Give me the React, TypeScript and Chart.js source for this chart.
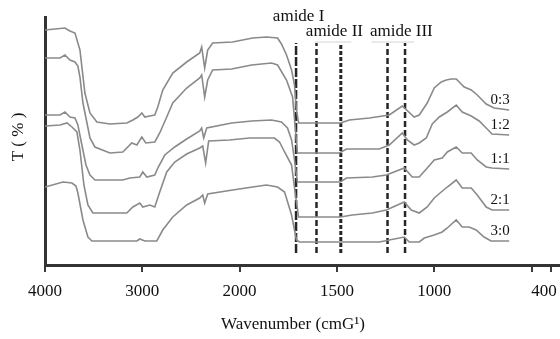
import { useEffect, useRef } from 'react';
import { Chart, registerables } from 'chart.js';

Chart.register(...registerables);

// Wavenumber (cm-1) -> axis position: 4000-2000 compressed, 2000-400 expanded x2
const pos = (w: number) => (w >= 2000 ? (4000 - w) / 2000 : 1 + (2000 - w) / 1000);

const tickWavenumbers = [4000, 3000, 2000, 1500, 1000, 500, 400];
const tickLabels = ['4000', '3000', '2000', '1500', '1000', '', ''];
const lastTickLabel = '400';

const seriesNames = ['0:3', '1:2', '1:1', '2:1', '3:0'];

const w03 = [4000, 3897, 3795, 3744, 3692, 3641, 3590, 3538, 3467, 3333, 3159, 3097, 3046, 3005, 2974, 2923, 2872, 2841, 2790, 2687, 2544, 2410, 2390, 2359, 2328, 2277, 2072, 1933, 1862, 1805, 1785, 1759, 1733, 1718, 1708, 1697, 1590, 1482, 1436, 1333, 1231, 1164, 1103, 1077, 1036, 1000, 964, 938, 913, 887, 846, 810, 779, 733, 692, 615];
const t03 = [235, 236, 237, 234, 232, 215, 172, 152, 143, 141, 142, 145, 148, 152, 148, 149, 150, 158, 175, 192, 203, 212, 218, 197, 215, 222, 223, 227, 228, 227, 221, 210, 195, 180, 155, 142, 142, 142, 145, 147, 150, 159, 148, 150, 162, 177, 183, 185, 186, 186, 178, 175, 170, 161, 157, 155];

const w12 = [4000, 3846, 3795, 3744, 3692, 3662, 3641, 3610, 3579, 3538, 3487, 3333, 3200, 3108, 3056, 3005, 2964, 2872, 2821, 2749, 2687, 2544, 2410, 2390, 2359, 2328, 2277, 2082, 1938, 1836, 1805, 1759, 1728, 1713, 1703, 1487, 1451, 1282, 1231, 1164, 1138, 1103, 1077, 1041, 1010, 974, 933, 887, 856, 810, 769, 728, 703, 615];
const t12 = [207, 207, 210, 205, 203, 199, 188, 162, 147, 127, 118, 112, 113, 122, 120, 128, 122, 123, 132, 148, 162, 177, 187, 190, 168, 185, 195, 196, 200, 202, 200, 185, 168, 135, 112, 112, 116, 116, 120, 132, 125, 120, 122, 127, 141, 148, 153, 160, 153, 149, 144, 136, 131, 130];

const w11 = [4000, 3846, 3795, 3744, 3692, 3662, 3621, 3579, 3538, 3487, 3200, 3128, 3026, 2995, 2954, 2872, 2841, 2769, 2667, 2544, 2410, 2390, 2369, 2338, 2082, 1938, 1836, 1785, 1754, 1733, 1718, 1703, 1482, 1451, 1318, 1246, 1154, 1113, 1077, 1036, 1000, 959, 933, 887, 856, 810, 779, 733, 703, 615];
const t11 = [150, 150, 153, 148, 147, 140, 120, 100, 90, 85, 85, 87, 88, 93, 88, 90, 97, 110, 118, 126, 134, 137, 127, 137, 142, 144, 145, 143, 137, 125, 105, 83, 83, 87, 88, 90, 97, 88, 88, 97, 105, 107, 113, 118, 112, 112, 105, 98, 97, 96];

const w21 = [4000, 3846, 3774, 3723, 3672, 3641, 3600, 3559, 3508, 3159, 3097, 3026, 2995, 2923, 2872, 2821, 2749, 2667, 2544, 2410, 2379, 2349, 2318, 2103, 1949, 1821, 1795, 1769, 1733, 1713, 1697, 1482, 1421, 1318, 1246, 1154, 1118, 1077, 1036, 1000, 964, 933, 887, 856, 810, 779, 733, 703, 615];
const t21 = [139, 140, 142, 138, 133, 115, 80, 60, 52, 52, 58, 62, 58, 60, 58, 73, 93, 103, 111, 117, 119, 102, 124, 125, 127, 127, 123, 113, 100, 70, 48, 48, 50, 52, 55, 63, 55, 52, 58, 67, 73, 78, 85, 77, 77, 70, 58, 55, 55];

const w30 = [4000, 3815, 3723, 3682, 3662, 3610, 3559, 3518, 3056, 3026, 2974, 2851, 2790, 2687, 2544, 2410, 2379, 2359, 2328, 2072, 1933, 1862, 1805, 1769, 1733, 1708, 1692, 1282, 1231, 1154, 1128, 1077, 1051, 1000, 959, 933, 887, 856, 821, 785, 744, 708, 615];
const t30 = [78, 83, 82, 79, 72, 45, 28, 24, 24, 26, 24, 24, 35, 48, 60, 67, 70, 62, 71, 75, 78, 80, 78, 73, 50, 25, 23, 23, 25, 28, 23, 23, 27, 30, 33, 37, 45, 38, 38, 35, 28, 24, 24];

const seriesW = [w03, w12, w11, w21, w30];
const seriesT = [t03, t12, t11, t21, t30];

// amide band markers (cm-1) and their vertical extent (T units)
const amideBands = [1710, 1605, 1480, 1240, 1150];
const bandTop = 222;
const bandBottom = 12;
const amideLabels = ['amide I', 'amide II', 'amide III'];
const amideLabelW = [1697, 1513, 1169];
const amideLabelT = [244, 229, 229];
const bracketW = [[1615, 1426], [1323, 1103]];
const bracketT = 223;

const xTitle = 'Wavenumber (cmG¹)';
const yTitle = 'T ( % )';

const FONT = '"Liberation Serif", "Times New Roman", serif';

export default function App() {
  const ref = useRef<HTMLCanvasElement | null>(null);

  useEffect(() => {
    if (!ref.current) return;
    const dashes = [[9, 2], [6, 3], [4, 2], [6, 3], [6, 3]];
    const curveSets = seriesNames.map((name, i) => ({
      label: name,
      data: seriesW[i].map((w, j) => ({ x: pos(w), y: seriesT[i][j] })),
      borderColor: '#8a8a8a',
      borderWidth: 1.6,
      pointRadius: 0,
      tension: 0,
      fill: false,
    }));
    const bandSets = amideBands.map((w, i) => ({
      label: 'band' + i,
      data: [{ x: pos(w), y: bandBottom }, { x: pos(w), y: bandTop }],
      borderColor: '#262626',
      borderWidth: i === 2 ? 3 : 2.5,
      borderDash: dashes[i],
      pointRadius: 0,
      fill: false,
    }));
    const bracketSets = bracketW.map((pair, i) => ({
      label: 'bracket' + i,
      data: pair.map((w) => ({ x: pos(w), y: bracketT })),
      borderColor: '#d4d4d4',
      borderWidth: 1,
      pointRadius: 0,
      fill: false,
    }));

    const textPlugin = {
      id: 'texts',
      afterDraw(chart: any) {
        const { ctx } = chart;
        const x = chart.scales.x;
        const y = chart.scales.y;
        ctx.save();
        ctx.fillStyle = '#111';
        ctx.textAlign = 'center';
        ctx.font = '17px ' + FONT;
        ctx.textBaseline = 'alphabetic';
        amideLabels.forEach((lab, i) => {
          ctx.fillText(lab, x.getPixelForValue(pos(amideLabelW[i])), y.getPixelForValue(amideLabelT[i]));
        });
        ctx.font = '15px ' + FONT;
        ctx.textBaseline = 'middle';
        seriesNames.forEach((name, i) => {
          const meta = chart.getDatasetMeta(i);
          const pt = meta.data[meta.data.length - 1];
          ctx.fillText(name, pt.x - 9, pt.y - 10);
        });
        ctx.font = '17px ' + FONT;
        ctx.fillText(lastTickLabel, x.getPixelForValue(pos(400)) - 7, x.top + 7 + 9 + 10.2);
        ctx.fillText(xTitle, (x.left + x.right) / 2 - 9, 325);
        ctx.translate(19, (y.top + y.bottom) / 2 - 4);
        ctx.rotate(-Math.PI / 2);
        ctx.fillText(yTitle, 0, 0);
        ctx.restore();
      },
    };

    const chart = new Chart(ref.current, {
      type: 'line',
      data: { datasets: [...curveSets, ...bandSets, ...bracketSets] as any },
      options: {
        animation: false,
        responsive: false,
        devicePixelRatio: 1,
        layout: { padding: { top: 17, left: 0, right: 0, bottom: 0 } },
        plugins: { legend: { display: false }, tooltip: { enabled: false } },
        scales: {
          x: {
            type: 'linear',
            min: 0,
            max: 515 / 195,
            afterBuildTicks: (scale: any) => {
              scale.ticks = tickWavenumbers.map((w) => ({ value: pos(w) }));
            },
            afterFit: (scale: any) => {
              scale.height = 74;
            },
            ticks: {
              autoSkip: false,
              maxRotation: 0,
              padding: 9,
              color: '#111',
              font: { family: FONT, size: 17 },
              callback: (_v: any, i: number) => tickLabels[i],
            },
            grid: { display: true, drawOnChartArea: false, drawTicks: true, tickLength: 7, lineWidth: 2, color: '#3a3a3a' },
            border: { display: true, color: '#333', width: 3 },
          },
          y: {
            type: 'linear',
            min: 0,
            max: 248,
            afterFit: (scale: any) => {
              scale.width = 45;
            },
            ticks: { display: false },
            grid: { display: false, drawTicks: false },
            border: { display: true, color: '#333', width: 3 },
          },
        },
      },
      plugins: [textPlugin],
    });
    return () => chart.destroy();
  }, []);

  return (
    <div style={{ position: 'absolute', left: 0, top: 0, width: 560, height: 339, background: '#fff' }}>
      <canvas ref={ref} width={560} height={339} />
    </div>
  );
}
